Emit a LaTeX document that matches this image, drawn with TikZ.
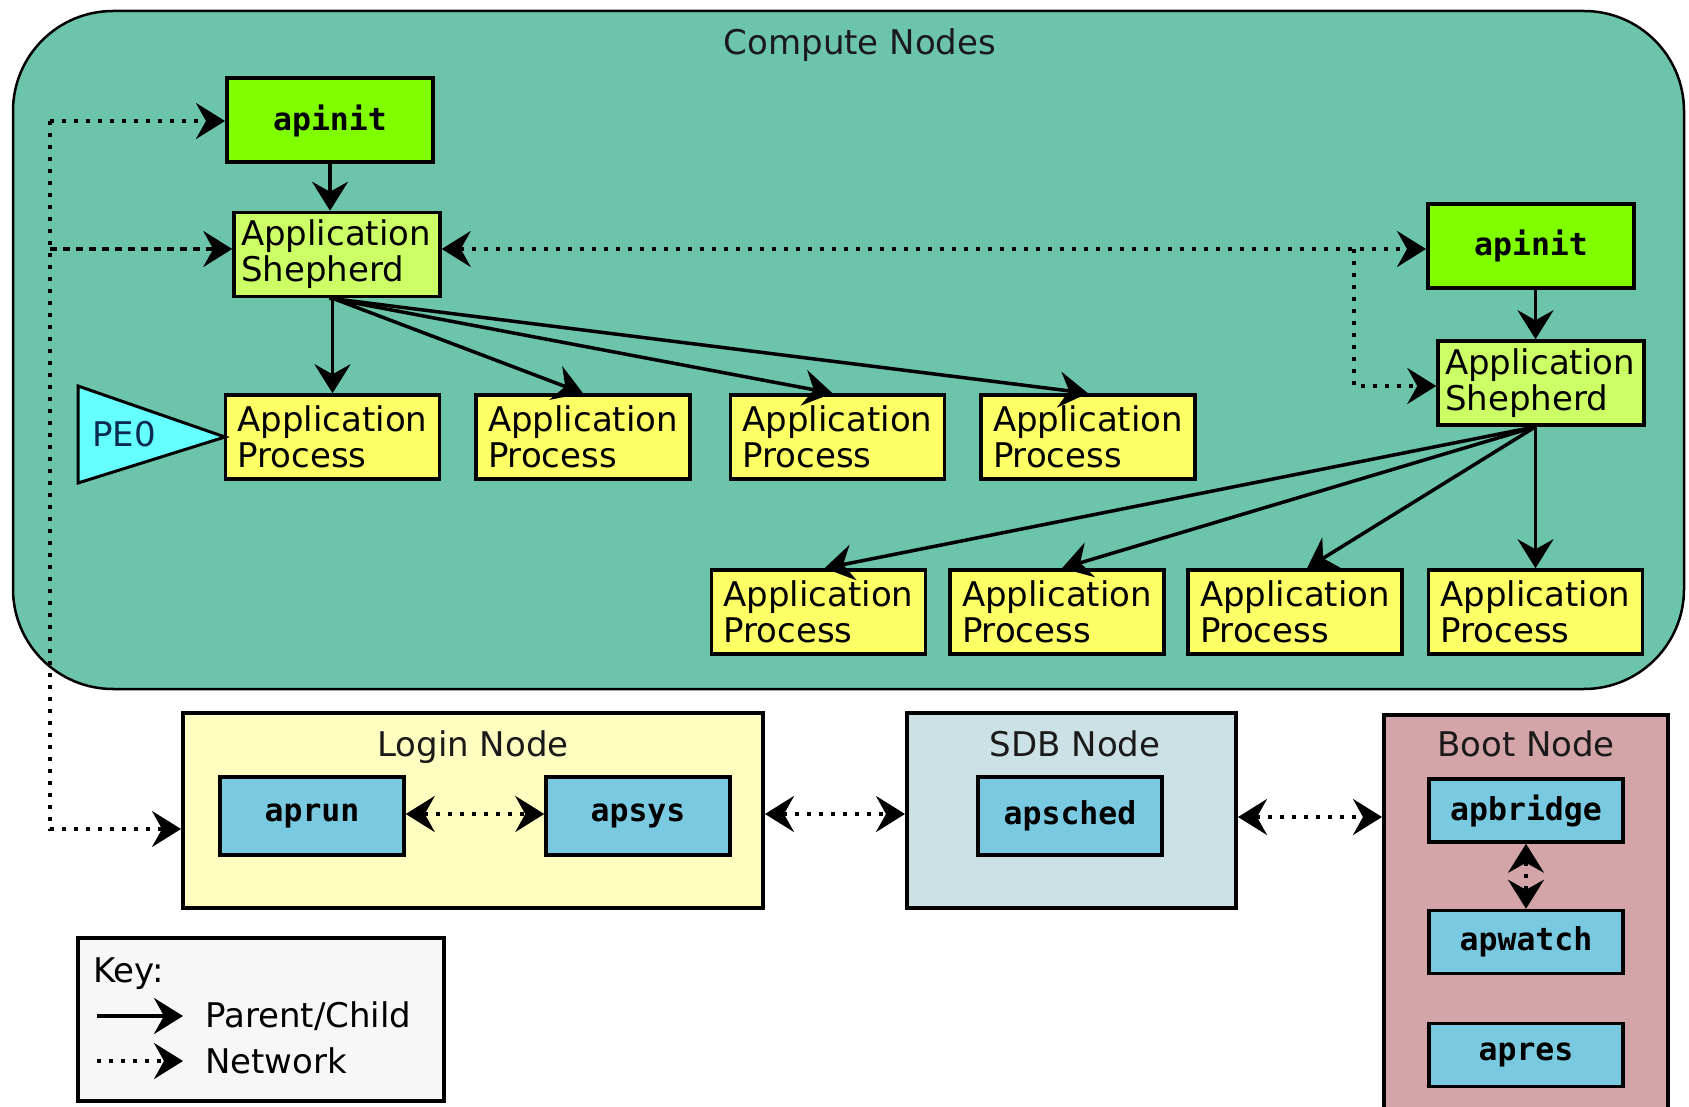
\documentclass[tikz,border=0pt]{standalone}
\usepackage{fontspec}
\setmainfont{DejaVu Sans}
\newfontfamily\monof{DejaVu Sans Mono}
\usetikzlibrary{arrows.meta}
\definecolor{compbg}{HTML}{6CC4AB}
\definecolor{initcol}{HTML}{80FF00}
\definecolor{shepcol}{HTML}{CCFF66}
\definecolor{apcol}{HTML}{FFFF66}
\definecolor{pecol}{HTML}{66FFFF}
\definecolor{petext}{HTML}{0A2A50}
\definecolor{logincol}{HTML}{FFFDC0}
\definecolor{sdbcol}{HTML}{CCE1E6}
\definecolor{bootcol}{HTML}{D4A5A8}
\definecolor{progcol}{HTML}{79C9E0}
\definecolor{keycol}{HTML}{F7F7F7}
\definecolor{titlecol}{HTML}{1A1A1A}
\begin{document}
\begin{tikzpicture}[x=1pt,y=-1pt,
  sans/.style={font=\fontsize{34}{36}\selectfont},
  mono/.style={font=\fontsize{31.5}{34}\selectfont\monof\bfseries},
  bigtip/.tip={Stealth[length=29pt,width=36pt,inset=10pt]},
  pc/.style={draw=black, line width=3.5pt, -bigtip},
  net/.style={draw=black, line width=3.5pt, dash pattern=on 4pt off 8pt, -bigtip},
  netb/.style={draw=black, line width=3.5pt, dash pattern=on 4pt off 8pt, bigtip-bigtip},
  apbox/.style={draw, line width=3.5pt, fill=apcol, sans, text width=190pt, align=left,
     inner xsep=12pt, inner ysep=4pt, minimum height=84pt},
  shbox/.style={apbox, fill=shepcol, text width=192pt, inner xsep=7pt},
  initbox/.style={draw, line width=4pt, fill=initcol, mono, minimum width=206pt, minimum height=84pt},
  progbox/.style={draw, line width=3.5pt, fill=progcol, mono, minimum width=184pt, minimum height=78pt},
  progsm/.style={progbox, minimum width=194pt, minimum height=63pt},
  title/.style={sans, inner sep=0pt, anchor=base, text=titlecol},
]
\clip (0,0) rectangle (1689,1107);
\fill[white] (0,0) rectangle (1689,1107);
\useasboundingbox (0,0) rectangle (1689,1107);

% Compute Nodes container
\draw[line width=2.5pt, fill=compbg, rounded corners=100pt] (13,11) rectangle (1684,689);
\node[title] (cntitle) at (860,55) {Compute Nodes};

% left compute node
\node[initbox] (ai1) at (330,120.5) {apinit};
\node[shbox] (sh1) at (337,254.5) {Application\\Shepherd};
\node[apbox] (ap1) at (332.5,437) {Application\\Process};
\node[apbox] (ap2) at (583,437) {Application\\Process};
\node[apbox] (ap3) at (837.5,437) {Application\\Process};
\node[apbox] (ap4) at (1088,437) {Application\\Process};
\draw[line width=3pt, fill=pecol, line join=miter] (78,386) -- (78,483) -- (225,437) -- cycle;
\node[sans, inner sep=0pt, text=petext] (pe0) at (124,434) {PE0};

% right compute node
\node[initbox] (ai2) at (1531,246) {apinit};
\node[shbox] (sh2) at (1541,383) {Application\\Shepherd};
\node[apbox] (ap5) at (818.5,612) {Application\\Process};
\node[apbox] (ap6) at (1057,612) {Application\\Process};
\node[apbox] (ap7) at (1295,612) {Application\\Process};
\node[apbox] (ap8) at (1535.5,612) {Application\\Process};

% parent/child arrows
\coordinate (s1) at (ap1.north |- sh1.south);
\coordinate (s2) at (ap8.north |- sh2.south);
\draw[pc] (ai1.south) -- (ai1.south |- sh1.north);
\draw[pc] (s1) -- (ap1.north);
\draw[pc] (s1) -- (ap2.north);
\draw[pc] ([xshift=-3pt]s1) -- ([xshift=-5pt]ap3.north);
\draw[pc] ([xshift=-3pt]s1) -- (ap4.north);
\draw[pc] (ai2.south -| ap8.north) -- (s2 |- sh2.north);
\draw[pc] (s2) -- ([xshift=6pt]ap5.north);
\draw[pc] (s2) -- ([xshift=5pt]ap6.north);
\draw[pc] (s2) -- ([xshift=12pt]ap7.north);
\draw[pc] (s2) -- (ap8.north);

% Login node
\node[draw, line width=4pt, fill=logincol, minimum width=580pt, minimum height=195pt] (login) at (473,810.5) {};
\node[title] (logintitle) at (473,756) {Login Node};
\node[progbox] (aprun) at (312,816) {aprun};
\node[progbox] (apsys) at (638,816) {apsys};

% SDB node
\node[draw, line width=4pt, fill=sdbcol, minimum width=329pt, minimum height=195pt] (sdb) at (1071.5,810.5) {};
\node[title] (sdbtitle) at (1075,756) {SDB Node};
\node[progbox] (apsched) at (1070,816) {apsched};

% Boot node
\node[draw, line width=4pt, fill=bootcol, minimum width=284pt, minimum height=420pt, anchor=north west] (boot) at (1382,713) {};
\node[title] (boottitle) at (1526,756) {Boot Node};
\node[progsm] (apbridge) at (1526,810.5) {apbridge};
\node[progsm] (apwatch) at (1526,942) {apwatch};
\node[progsm] (apres) at (1526,1055) {apres};

% network connectors
\coordinate (n1) at (50,121);
\coordinate (n2) at (50,249);
\coordinate (n3) at (50,829);
\coordinate (nm) at (700,249);
\coordinate (nb) at (1354,249);
\coordinate (nc) at (1354,386);
\draw[net] (n1) -- (ai1.west |- n1);
\draw[net, dash pattern=on 7pt off 6pt] (n2) -- (sh1.west |- n2);
\draw[net] (n1) -- (n3) -- (login.west |- n3);
\draw[netb] (sh1.east |- nm) -- (ai2.west |- nm);
\draw[net] (nb) -- (nc) -- (sh2.west |- nc);
\draw[netb] (aprun.east |- 0,814) -- (apsys.west |- 0,814);
\draw[netb] (login.east |- 0,814) -- (sdb.west |- 0,814);
\draw[netb] (sdb.east |- 0,817) -- (boot.west |- 0,817);
\draw[netb] (apbridge.south) -- (apwatch.north);

% Key
\node[draw, line width=3.5pt, fill=keycol, minimum width=366pt, minimum height=163pt] (key) at (261,1019.5) {};
\node[sans, anchor=base west, inner sep=0pt] (keytitle) at (93,982) {Key:};
\coordinate (k1a) at (97,1016);
\coordinate (k1b) at (183,1016);
\coordinate (k2a) at (97,1061);
\coordinate (k2b) at (183,1061);
\draw[pc] (k1a) -- (k1b);
\draw[net] (k2a) -- (k2b);
\node[sans, anchor=west, inner sep=0pt] (keypc) at (205,1016) {Parent/Child};
\node[sans, anchor=west, inner sep=0pt] (keynet) at (205,1061) {Network};
\end{tikzpicture}
\end{document}
